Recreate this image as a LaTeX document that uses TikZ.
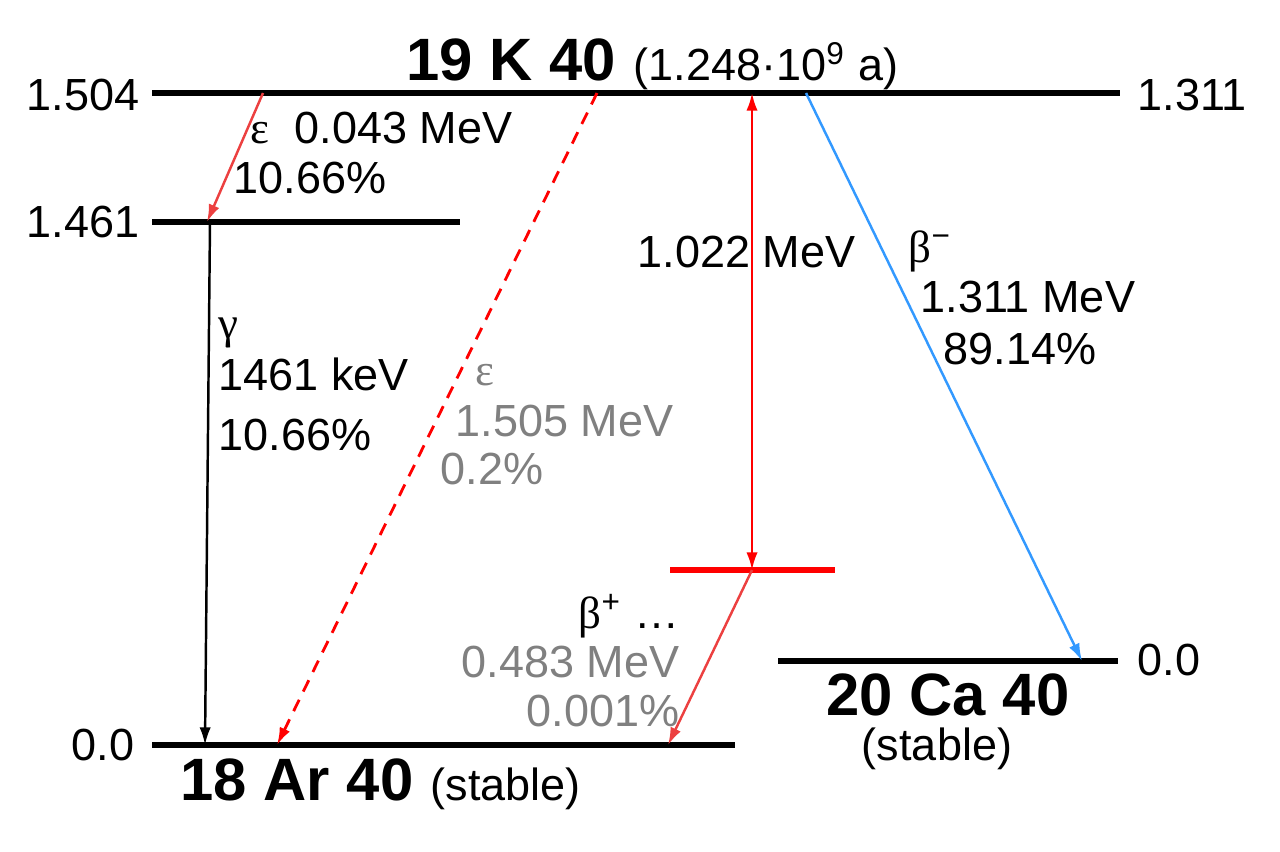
\documentclass[tikz,border=0pt]{standalone}
\usepackage{fontspec}
\setmainfont{Liberation Sans}
\newfontfamily\grk{Liberation Serif}
\usetikzlibrary{arrows.meta}
\definecolor{decayred}{RGB}{255,0,0}
\definecolor{softred}{RGB}{236,64,64}
\definecolor{betablue}{RGB}{51,153,255}
\definecolor{greytext}{RGB}{128,128,128}

\begin{document}
\begin{tikzpicture}[x=0.01cm,y=-0.01cm,
    level/.style={line width=1.6pt},
    trans/.style={line width=0.7pt,-{Latex[length=5pt,width=3.2pt]}},
    lbl/.style={inner sep=0pt,font=\fontsize{12.8}{15}\selectfont},
    nuc/.style={inner sep=0pt,font=\fontsize{17}{20}\selectfont\bfseries}]
\useasboundingbox (0,0) rectangle (1280,851);
% level ends
\coordinate (kL) at (152,93);   \coordinate (kR) at (1120,93);
\coordinate (eL) at (152,222);  \coordinate (eR) at (460,222);
\coordinate (aL) at (152,745);  \coordinate (aR) at (735,745);
\coordinate (cL) at (778,661);  \coordinate (cR) at (1118,661);
\coordinate (pL) at (670,570);  \coordinate (pR) at (835,570);
% transition ends
\coordinate (k1) at (263,93);   \coordinate (e1) at (207,222);
\coordinate (e2) at (210,222);  \coordinate (a1) at (205,745);
\coordinate (k2) at (597,93);   \coordinate (a2) at (277,745);
\coordinate (k3) at (752,93);   \coordinate (p1) at (752,570);
\coordinate (a3) at (668,745);
\coordinate (k4) at (806,93);   \coordinate (c1) at (1082,661);

\draw[level] (kL) -- (kR);
\draw[level] (eL) -- (eR);
\draw[level] (aL) -- (aR);
\draw[level] (cL) -- (cR);
\draw[level,decayred] (pL) -- (pR);

\draw[trans,softred] (k1) -- (e1);
\draw[trans] (e2) -- (a1);
\draw[trans,decayred,line width=0.8pt,dash pattern=on 3.6pt off 2.6pt] (k2) -- (a2);
\draw[trans,decayred,{Latex[length=5pt,width=3.2pt]}-{Latex[length=5pt,width=3.2pt]}] (k3) -- (p1);
\draw[trans,softred] (p1) -- (a3);
\draw[trans,betablue] (k4) -- (c1);

% energies
\node[lbl,anchor=base east] (ek) at (140,110) {1.504};
\node[lbl,anchor=base west] (ek2) at (1137,110) {1.311};
\node[lbl,anchor=base east] (ee) at (140,237) {1.461};
\node[lbl,anchor=base east] (ea) at (135,760) {0.0};
\node[lbl,anchor=base west] (ec) at (1137,675) {0.0};

% nuclides
\node[nuc,anchor=base west] (kname) at (406,80) {19 K 40};
\node[lbl,anchor=base west] (khalf) at (633,80) {(1.248·10\textsuperscript{9} a)};
\node[nuc,anchor=base west] (aname) at (180,800) {18 Ar 40};
\node[lbl,anchor=base west] (astab) at (430,800) {(stable)};
\node[nuc,anchor=base] (cname) at (948,715) {20 Ca 40};
\node[lbl,anchor=base] (cstab) at (937,760) {(stable)};

% transition labels
\node[lbl,anchor=base west] (l1) at (250,143) {{\grk ε}\ \ 0.043 MeV};
\node[lbl,anchor=base west] (l2) at (233,193) {10.66\%};
\node[lbl,anchor=base west] (l3) at (218,338) {\grk γ};
\node[lbl,anchor=base west] (l4) at (218,390) {1461 keV};
\node[lbl,anchor=base west] (l5) at (218,450) {10.66\%};
\node[lbl,anchor=base west,text=greytext] (l6) at (475,385) {\grk ε};
\node[lbl,anchor=base west,text=greytext] (l7) at (455,436) {1.505 MeV};
\node[lbl,anchor=base west,text=greytext] (l8) at (440,484) {0.2\%};
\node[lbl,anchor=base west] (l9) at (637,267) {1.022 MeV};
\node[lbl,anchor=base west] (l10) at (908,262) {{\grk β}\textsuperscript{−}};
\node[lbl,anchor=base west] (l11) at (920,312) {1.311 MeV};
\node[lbl,anchor=base west] (l12) at (943,364) {89.14\%};
\node[lbl,anchor=base east] (l13) at (680,628) {{\grk β}\textsuperscript{+} …};
\node[lbl,anchor=base east,text=greytext] (l14) at (680,677) {0.483 MeV};
\node[lbl,anchor=base east,text=greytext] (l15) at (680,726) {0.001\%};
\end{tikzpicture}
\end{document}
